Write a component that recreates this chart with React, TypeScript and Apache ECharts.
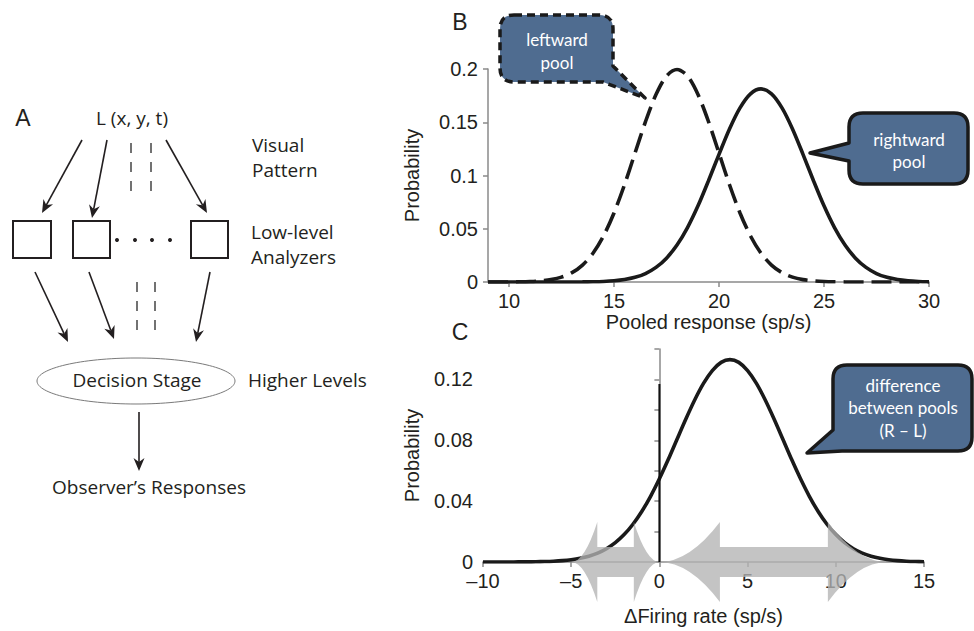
import React, { useEffect, useRef } from "react";
import * as echarts from "echarts";

// ---------- DATA ----------
const poolX = [9, 9.5, 10, 10.5, 11, 11.5, 12, 12.5, 13, 13.5, 14, 14.5, 15, 15.5, 16, 16.5, 17, 17.5, 18, 18.5, 19, 19.5, 20, 20.5, 21, 21.5, 22, 22.5, 23, 23.5, 24, 24.5, 25, 25.5, 26, 26.5, 27, 27.5, 28, 28.5, 29, 29.5, 30];
const leftwardPool = [0, 0.00002, 0.00007, 0.00018, 0.00044, 0.00102, 0.00222, 0.00455, 0.00876, 0.0159, 0.027, 0.0432, 0.0648, 0.0913, 0.121, 0.1506, 0.176, 0.1934, 0.1995, 0.1934, 0.176, 0.1506, 0.121, 0.0913, 0.0648, 0.0432, 0.027, 0.0159, 0.00876, 0.00455, 0.00222, 0.00102, 0.00044, 0.00018, 0.00007, 0.00002, 0.00001, 0, 0, 0, 0, 0, 0];
const rightwardPool = [0, 0, 0, 0, 0, 0, 0.00001, 0.00002, 0.00004, 0.0001, 0.00024, 0.00054, 0.00115, 0.00231, 0.0044, 0.00796, 0.0137, 0.0224, 0.0347, 0.0511, 0.0715, 0.0951, 0.1199, 0.1437, 0.1635, 0.1767, 0.1813, 0.1767, 0.1635, 0.1437, 0.1199, 0.0951, 0.0715, 0.0511, 0.0347, 0.0224, 0.0137, 0.00796, 0.0044, 0.00231, 0.00115, 0.00054, 0.00024];

const diffX = [-10, -9.5, -9, -8.5, -8, -7.5, -7, -6.5, -6, -5.5, -5, -4.5, -4, -3.5, -3, -2.5, -2, -1.5, -1, -0.5, 0, 0.5, 1, 1.5, 2, 2.5, 3, 3.5, 4, 4.5, 5, 5.5, 6, 6.5, 7, 7.5, 8, 8.5, 9, 9.5, 10, 10.5, 11, 11.5, 12, 12.5, 13, 13.5, 14, 14.5, 15];
const diffPool = [0, 0, 0.00001, 0.00002, 0.00005, 0.00008, 0.00016, 0.00029, 0.00051, 0.00088, 0.00148, 0.0024, 0.0038, 0.00584, 0.00874, 0.0127, 0.018, 0.0248, 0.0332, 0.0432, 0.0547, 0.0673, 0.0807, 0.094, 0.1065, 0.1174, 0.1258, 0.1312, 0.133, 0.1312, 0.1258, 0.1174, 0.1065, 0.094, 0.0807, 0.0673, 0.0547, 0.0432, 0.0332, 0.0248, 0.018, 0.0127, 0.00874, 0.00584, 0.0038, 0.0024, 0.00148, 0.00088, 0.00051, 0.00029, 0.00016];

const criterionX = [0, 0];
const criterionY = [0, 0.117];

// gray double arrows: [left tip, left head base, right head base, right tip]
const arrowSpans = [
  [-4.98, -3.52, -1.45, 0],
  [0, 3.43, 9.55, 12.9],
];

const bTicksX = [10, 15, 20, 25, 30];
const bTicksY = [0, 0.05, 0.1, 0.15, 0.2];
const cTicksX = [-10, -5, 0, 5, 10, 15];
const cLabelsY = [0, 0.04, 0.08, 0.12];
const cTicksY = [0, 0.02, 0.04, 0.06, 0.08, 0.1, 0.12, 0.14];

// ---------- SHAPES ----------
const leftBubbleD =
  "M514 15 L599 15 Q613 15 613 29 L613 66 L645 98 L603 82 L514 82 Q500 82 500 68 L500 29 Q500 15 514 15 Z";
const rightBubbleD =
  "M863 113 L954 113 Q968 113 968 127 L968 170 Q968 184 954 184 L863 184 Q849 184 849 170 L849 161 L810 153 L849 143 L849 127 Q849 113 863 113 Z";
const diffBubbleD =
  "M847 365 L958 365 Q972 365 972 379 L972 437 Q972 451 958 451 L842 451 L807 453 L833 430 L833 379 Q833 365 847 365 Z";

echarts.graphic.registerShape("leftBubble", echarts.graphic.extendPath(leftBubbleD, {}));
echarts.graphic.registerShape("rightBubble", echarts.graphic.extendPath(rightBubbleD, {}));
echarts.graphic.registerShape("diffBubble", echarts.graphic.extendPath(diffBubbleD, {}));

const INK = "#231f20";
const AXIS_GRAY = "#8a8a8a";
const TICK_FONT = "Liberation Sans, Arial, sans-serif";
const DIAG_FONT = "Open Sans, Noto Sans, sans-serif";
const BUBBLE_FONT = "Lato, Open Sans, sans-serif";
const BUBBLE_FILL = "#4f6c90";

function arrowEls(x1: number, y1: number, x2: number, y2: number) {
  const dx = x2 - x1;
  const dy = y2 - y1;
  const len = Math.hypot(dx, dy);
  const ux = dx / len;
  const uy = dy / len;
  const px = -uy;
  const py = ux;
  const L = 13;
  const W = 5.5;
  const N = 9;
  const bx = x2 - ux * L;
  const by = y2 - uy * L;
  const nx = x2 - ux * N;
  const ny = y2 - uy * N;
  return [
    { type: "line", shape: { x1, y1, x2: nx, y2: ny }, style: { stroke: INK, lineWidth: 1.6 } },
    {
      type: "polygon",
      shape: { points: [[x2, y2], [bx + px * W, by + py * W], [nx, ny], [bx - px * W, by - py * W]] },
      style: { fill: INK },
    },
  ];
}

function txt(text: string, x: number, y: number, font: string, align = "left", fill = INK) {
  return {
    type: "text",
    style: {
      text,
      x,
      y,
      font,
      fill,
      align,
      textAlign: align,
      verticalAlign: "middle",
      textVerticalAlign: "middle",
    },
  };
}

function dashLine(x: number, y1: number, y2: number) {
  return {
    type: "line",
    shape: { x1: x, y1, x2: x, y2 },
    style: { stroke: "#444", lineWidth: 1.5, lineDash: [10, 9] },
  };
}

function box(x: number, y: number, w: number, h: number) {
  return { type: "rect", shape: { x, y, width: w, height: h }, style: { fill: "none", stroke: INK, lineWidth: 2 } };
}

function dot(x: number, y: number) {
  return { type: "circle", shape: { cx: x, cy: y, r: 2 }, style: { fill: INK } };
}

const diagFont = `19px ${DIAG_FONT}`;
const bubbleFont = `17px ${BUBBLE_FONT}`;

const panelA: any[] = [
  txt("A", 23, 118, `23px ${TICK_FONT}`, "center"),
  txt("L (x, y, t)", 132, 118, diagFont, "center"),
  txt("Visual", 252, 145, diagFont),
  txt("Pattern", 252, 170, diagFont),
  txt("Low-level", 251, 232, diagFont),
  txt("Analyzers", 251, 257, diagFont),
  txt("Decision Stage", 137, 380, diagFont, "center"),
  txt("Higher Levels", 248, 380, diagFont),
  txt("Observer\u2019s Responses", 149, 487, diagFont, "center"),
  ...arrowEls(82, 140, 42, 213),
  ...arrowEls(107, 140, 92, 218),
  ...arrowEls(166, 140, 207, 213),
  ...arrowEls(35, 272, 68, 342),
  ...arrowEls(89, 272, 114, 339),
  ...arrowEls(210, 272, 196, 342),
  ...arrowEls(139, 412, 139, 471),
  dashLine(131, 143, 196),
  dashLine(151, 143, 196),
  dashLine(137, 282, 334),
  dashLine(155, 282, 334),
  box(13, 221, 38, 37),
  box(73, 221, 37, 37),
  box(191, 221, 37, 37),
  dot(117, 240),
  dot(135, 240),
  dot(152, 240),
  dot(170, 240),
  {
    type: "ellipse",
    shape: { cx: 136, cy: 381, rx: 99, ry: 23 },
    style: { fill: "none", stroke: "#7a7a7a", lineWidth: 1 },
  },
];

const bubbles: any[] = [
  {
    type: "leftBubble",
    x: 0,
    y: 0,
    z: 10,
    style: { fill: BUBBLE_FILL, stroke: "#1a1a1a", lineWidth: 3.5, lineDash: [8, 5], lineJoin: "round" },
  },
  {
    type: "rightBubble",
    x: 0,
    y: 0,
    z: 10,
    style: { fill: BUBBLE_FILL, stroke: "#1a1a1a", lineWidth: 3.5, lineJoin: "round" },
  },
  {
    type: "diffBubble",
    x: 0,
    y: 0,
    z: 10,
    style: { fill: BUBBLE_FILL, stroke: "#1a1a1a", lineWidth: 3.5, lineJoin: "round" },
  },
  { ...txt("leftward", 557, 39, bubbleFont, "center", "#ffffff"), z: 11 },
  { ...txt("pool", 557, 62, bubbleFont, "center", "#ffffff"), z: 11 },
  { ...txt("rightward", 909, 139, bubbleFont, "center", "#ffffff"), z: 11 },
  { ...txt("pool", 909, 161, bubbleFont, "center", "#ffffff"), z: 11 },
  { ...txt("difference", 903, 385, bubbleFont, "center", "#ffffff"), z: 11 },
  { ...txt("between pools", 903, 407, bubbleFont, "center", "#ffffff"), z: 11 },
  { ...txt("(R \u2013 L)", 903, 430, bubbleFont, "center", "#ffffff"), z: 11 },
  txt("B", 460, 22, `23px ${TICK_FONT}`, "center"),
  txt("C", 460, 332, `23px ${TICK_FONT}`, "center"),
];

const zip = (xs: number[], ys: number[]) => xs.map((x, i) => [x, ys[i]]);

const axisCommon = {
  axisLine: { show: true, lineStyle: { color: AXIS_GRAY, width: 1.5 } },
  axisTick: { show: true, length: 5, lineStyle: { color: AXIS_GRAY, width: 1.5 } },
  splitLine: { show: false },
  nameLocation: "middle" as const,
  nameTextStyle: { fontFamily: TICK_FONT, fontSize: 20, color: INK },
};

const labelStyle = { fontFamily: TICK_FONT, fontSize: 20, color: INK };

export default function App() {
  const ref = useRef<HTMLDivElement>(null);
  useEffect(() => {
    document.body.style.margin = "0";
    if (!ref.current) return;
    const chart = echarts.init(ref.current, undefined, { renderer: "svg" });
    chart.setOption({
      animation: false,
      backgroundColor: "#ffffff",
      grid: [
        { left: 488, top: 69, width: 441, height: 213, containLabel: false },
        { left: 483, top: 349, width: 441, height: 213, containLabel: false },
      ],
      xAxis: [
        {
          ...axisCommon,
          type: "value",
          gridIndex: 0,
          min: 9,
          max: 30,
          name: "Pooled response (sp/s)",
          nameGap: 29,
          axisTick: { ...axisCommon.axisTick, customValues: bTicksX },
          axisLabel: { ...labelStyle, margin: 9, customValues: bTicksX },
        },
        {
          ...axisCommon,
          type: "value",
          gridIndex: 1,
          min: -10,
          max: 15,
          name: "\u0394Firing rate (sp/s)",
          nameGap: 44,
          axisTick: { ...axisCommon.axisTick, customValues: cTicksX },
          axisLabel: {
            ...labelStyle,
            margin: 9,
            customValues: cTicksX,
            formatter: (v: number) => (v < 0 ? "\u2013" + Math.abs(v) : String(v)),
          },
        },
      ],
      yAxis: [
        {
          ...axisCommon,
          type: "value",
          gridIndex: 0,
          min: 0,
          max: 0.2,
          name: "Probability",
          nameGap: 66,
          axisTick: { ...axisCommon.axisTick, customValues: bTicksY },
          axisLabel: { ...labelStyle, margin: 10, customValues: bTicksY, formatter: (v: number) => String(+v.toFixed(2)) },
        },
        {
          ...axisCommon,
          type: "value",
          gridIndex: 1,
          min: 0,
          max: 0.14,
          name: "Probability",
          nameGap: 61,
          axisTick: { ...axisCommon.axisTick, customValues: cTicksY },
          axisLabel: {
            ...labelStyle,
            margin: 10,
            customValues: cLabelsY,
            formatter: (v: number) => (v === 0 ? "0" : v.toFixed(2)),
          },
        },
      ],
      series: [
        {
          name: "leftward pool",
          type: "line",
          xAxisIndex: 0,
          yAxisIndex: 0,
          data: zip(poolX, leftwardPool),
          showSymbol: false,
          smooth: 0.3,
          lineStyle: { color: "#1a1a1a", width: 3.6, type: [20, 8] },
          z: 3,
        },
        {
          name: "rightward pool",
          type: "line",
          xAxisIndex: 0,
          yAxisIndex: 0,
          data: zip(poolX, rightwardPool),
          showSymbol: false,
          smooth: 0.3,
          lineStyle: { color: "#1a1a1a", width: 3.6 },
          z: 3,
        },
        {
          name: "difference",
          type: "line",
          xAxisIndex: 1,
          yAxisIndex: 1,
          data: zip(diffX, diffPool),
          showSymbol: false,
          smooth: 0.3,
          lineStyle: { color: "#1a1a1a", width: 3.6 },
          z: 3,
        },
        {
          name: "arrows",
          type: "custom",
          xAxisIndex: 1,
          yAxisIndex: 1,
          data: arrowSpans.map((s) => [...s, 0]),
          encode: { x: [0, 1, 2, 3], y: 4 },
          z: 4,
          silent: true,
          renderItem: (_params: any, api: any) => {
            const y0 = api.coord([0, 0])[1];
            const tl = api.coord([api.value(0), 0])[0];
            const bl = api.coord([api.value(1), 0])[0];
            const br = api.coord([api.value(2), 0])[0];
            const tr = api.coord([api.value(3), 0])[0];
            const hs = 15;
            const hh = 40;
            const ml = (tl + bl) / 2;
            const mr = (br + tr) / 2;
            const d =
              `M${tl} ${y0} Q${ml} ${y0} ${bl} ${y0 - hh} L${bl} ${y0 - hs} L${br} ${y0 - hs} L${br} ${y0 - hh} ` +
              `Q${mr} ${y0} ${tr} ${y0} Q${mr} ${y0} ${br} ${y0 + hh} L${br} ${y0 + hs} L${bl} ${y0 + hs} ` +
              `L${bl} ${y0 + hh} Q${ml} ${y0} ${tl} ${y0} Z`;
            return {
              type: "path",
              shape: { pathData: d },
              style: { fill: "rgba(180,180,180,0.78)" },
            };
          },
        },
        {
          name: "criterion",
          type: "line",
          xAxisIndex: 1,
          yAxisIndex: 1,
          data: zip(criterionX, criterionY),
          showSymbol: false,
          lineStyle: { color: "#111", width: 2 },
          z: 5,
        },
      ],
      graphic: { elements: [...panelA, ...bubbles] },
    });
    return () => chart.dispose();
  }, []);
  return <div ref={ref} style={{ width: 974, height: 631 }} />;
}
